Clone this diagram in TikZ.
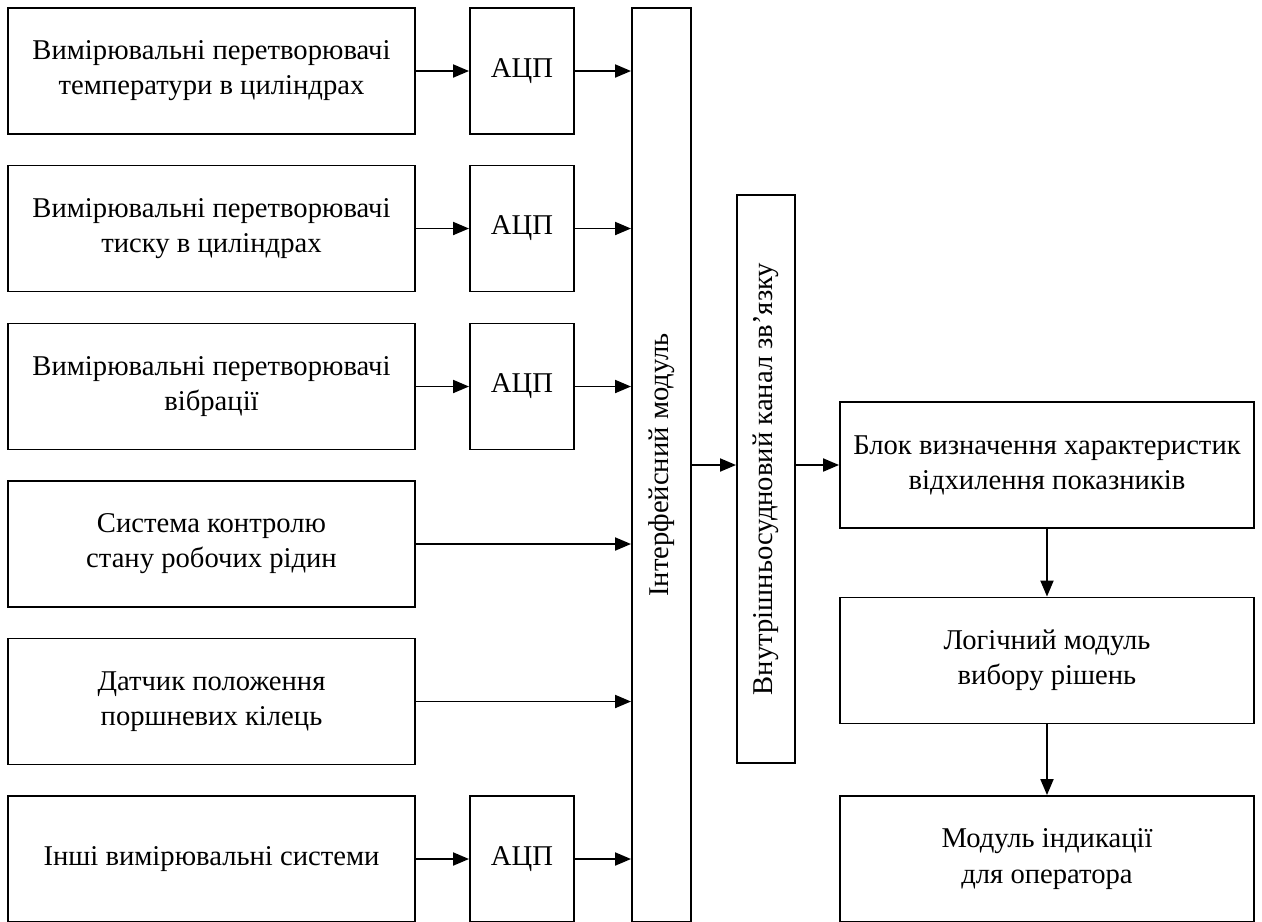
\documentclass[tikz,border=0pt]{standalone}
\usepackage{fontspec}
\setmainfont{Liberation Serif}
\usetikzlibrary{arrows.meta}

\begin{document}
\begin{tikzpicture}[x=0.02cm,y=-0.02cm,line width=1.1pt,>={Triangle[length=0.32cm,width=0.26cm]}]
\tikzstyle{blk}=[rectangle,draw,black,align=center,inner sep=0pt,font=\fontsize{16.3}{20}\selectfont]
\tikzstyle{src}=[blk,minimum width=8.14cm,minimum height=2.52cm]
\tikzstyle{adc}=[blk,minimum width=2.08cm,minimum height=2.52cm]
\tikzstyle{res}=[blk,minimum width=8.28cm,minimum height=2.52cm]
\useasboundingbox (0,0) rectangle (1262,921);
\clip (0,0) rectangle (1262,921);

% sensors
\node[src](T) at (211.5,71) {Вимірювальні перетворювачі\\температури в циліндрах};
\node[src](P) at (211.5,228.5) {Вимірювальні перетворювачі\\тиску в циліндрах};
\node[src](V) at (211.5,386.5) {Вимірювальні перетворювачі\\вібрації};
\node[src](R) at (211.5,544) {Система контролю\\стану робочих рідин};
\node[src](K) at (211.5,701.5) {Датчик положення\\поршневих кілець};
\node[src](O) at (211.5,859) {Інші вимірювальні системи};

\node[adc](A1) at (522,71) {АЦП};
\node[adc](A2) at (522,228.5) {АЦП};
\node[adc](A3) at (522,386.5) {АЦП};
\node[adc](A6) at (522,859) {АЦП};

\node[blk,minimum width=1.18cm,minimum height=18.28cm](I) at (661.5,465) {\rotatebox{90}{Інтерфейсний модуль}};
\node[blk,minimum width=1.16cm,minimum height=11.36cm](C) at (766,479) {\rotatebox{90}{Внутрішньосудновий канал зв'язку}};

\node[res](B1) at (1047,465) {Блок визначення характеристик\\відхилення показників};
\node[res](B2) at (1047,660.5) {Логічний модуль\\вибору рішень};
\node[res](B3) at (1047,859) {Модуль індикації\\для оператора};

\draw[->] (T) -- (A1);
\draw[->] (P) -- (A2);
\draw[->] (V) -- (A3);
\draw[->] (O) -- (A6);
\draw[->] (A1) -- (A1 -| I.west);
\draw[->] (A2) -- (A2 -| I.west);
\draw[->] (A3) -- (A3 -| I.west);
\draw[->] (R) -- (R -| I.west);
\draw[->] (K) -- (K -| I.west);
\draw[->] (A6) -- (A6 -| I.west);

\draw[->] (I.east) -- (I.east -| C.west);
\draw[->] (B1.west -| C.east) -- (B1.west);
\draw[->] (B1) -- (B2);
\draw[->] (B2) -- (B3);
\end{tikzpicture}
\end{document}
